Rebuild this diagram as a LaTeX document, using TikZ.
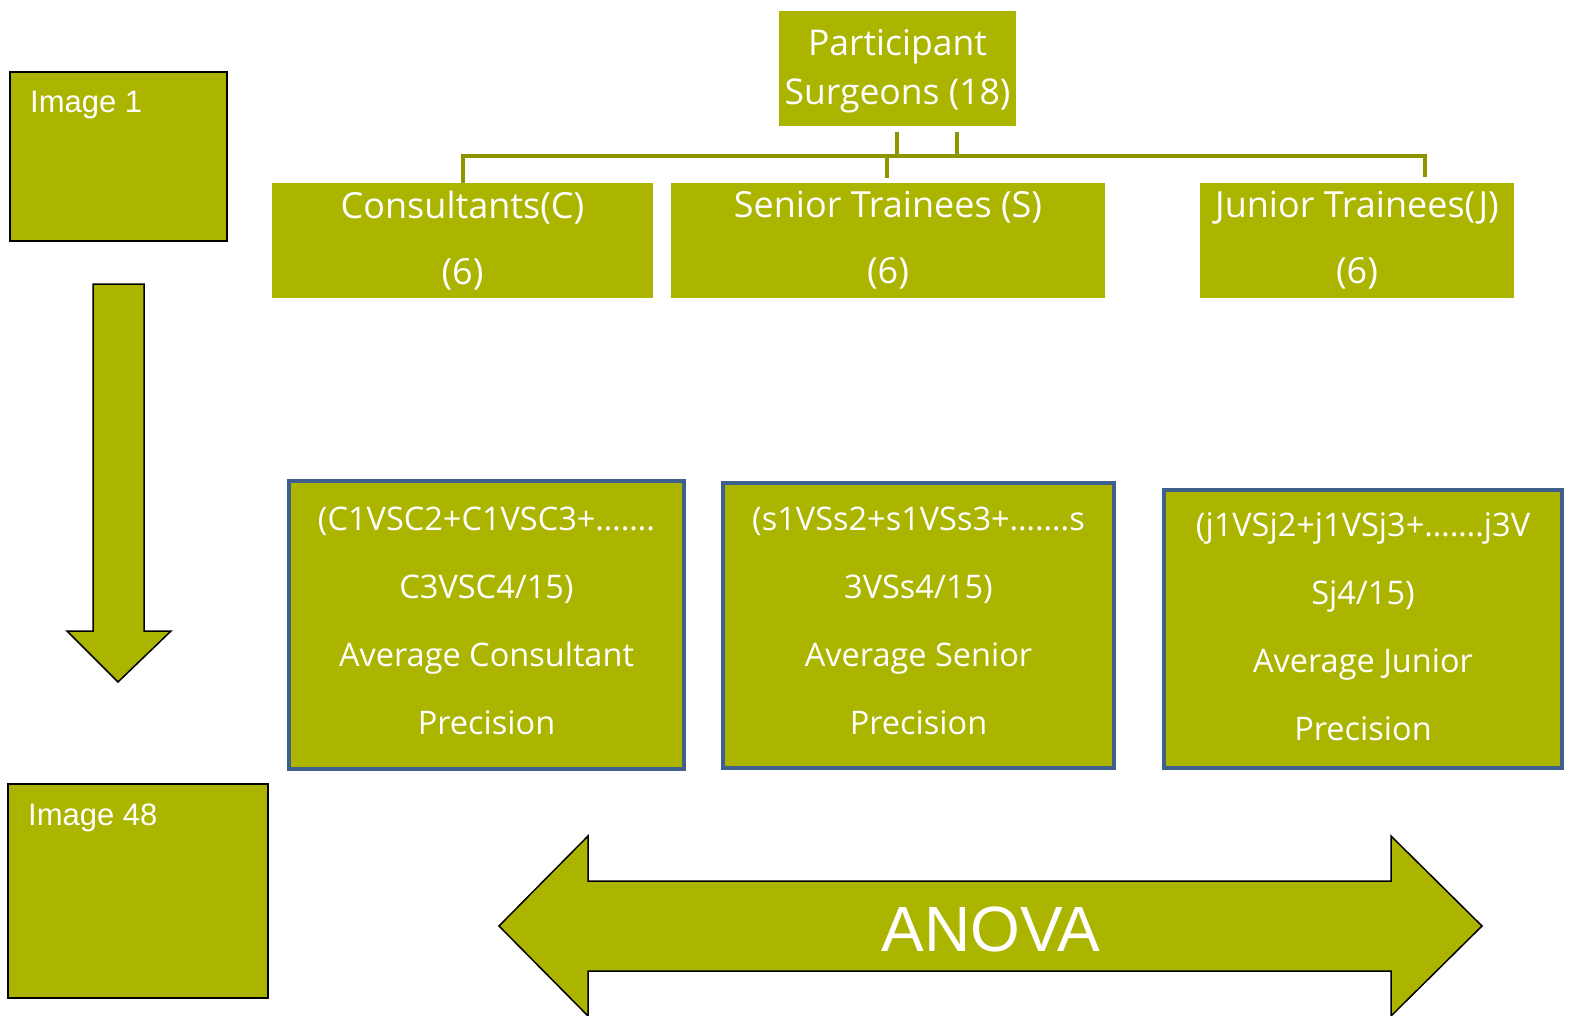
\documentclass[tikz,border=0pt]{standalone}
\usepackage{fontspec}
\setmainfont{Open Sans}
\newfontfamily\arialf{Liberation Sans}
\definecolor{olivefill}{RGB}{171,181,0}
\definecolor{oliveline}{RGB}{140,148,0}
\definecolor{boxblue}{RGB}{63,95,140}
\begin{document}
\begin{tikzpicture}[x=1pt,y=-1pt,
  greenbox/.style={fill=olivefill, draw=none, text=white, inner sep=0pt, align=center},
  imgbox/.style={fill=olivefill, draw=black, line width=1.5pt, inner sep=0pt},
  imgtext/.style={text=white, inner sep=0pt, font=\arialf\fontsize{31}{36}\selectfont},
  precbox/.style={fill=olivefill, draw=boxblue, line width=4pt, inner sep=0pt},
  prectext/.style={text=white, align=center, inner sep=0pt, font=\fontsize{32.5}{68}\selectfont},
  conn/.style={draw=oliveline, line width=4pt},
  blockarrow/.style={fill=olivefill, draw=black, line width=1.5pt, line join=miter}]
\useasboundingbox (0,0) rectangle (1577,1015);
\begin{scope}
\clip (0,0) rectangle (1577,1015);

% top boxes
\node[greenbox, minimum width=237, minimum height=115] (P) at (897.5,68.5) {};
\node[text=white, align=center, inner sep=0pt, font=\fontsize{35.5}{49}\selectfont, yshift=-3pt]
  (Pt) at (P.center) {Participant\\Surgeons (18)};
\node[greenbox, minimum width=381, minimum height=115, font=\fontsize{36}{66}\selectfont]
  (C) at (462.5,240.5) {Consultants(C)\\(6)};
\node[greenbox, minimum width=434, minimum height=115, font=\fontsize{36}{66}\selectfont]
  (S) at (888,240.5) {Senior Trainees (S)\\(6)};
\node[greenbox, minimum width=314, minimum height=115, font=\fontsize{36}{66}\selectfont]
  (J) at (1357,240.5) {Junior Trainees(J)\\(6)};

% connectors
\coordinate (pl) at (897,132);
\coordinate (pr) at (957,132);
\coordinate (bus) at (462,156);
\coordinate (jstub) at (1425,177);
\coordinate (sstub) at (887,178);
\draw[conn] (pl) -- (pl |- bus);
\draw[conn] (pr) -- (pr |- bus);
\draw[conn] (C.north) -- (C.north |- bus) -- (jstub |- bus) -- (jstub);
\draw[conn] (sstub |- bus) -- (sstub);

% image boxes
\node[imgbox, minimum width=217, minimum height=169] (I1) at (118.5,156.5) {};
\node[imgtext, anchor=base west] (I1t) at (30,112) {Image 1};
\node[imgbox, minimum width=260, minimum height=214] (I48) at (138,891) {};
\node[imgtext, anchor=base west] (I48t) at (28,825) {Image 48};

% down arrow
\draw[blockarrow] (93,284) -- (144,284) -- (144,631) -- (171,631) -- (118,682)
  -- (67,631) -- (93,631) -- cycle;

% precision boxes
\node[precbox, minimum width=395, minimum height=288] (CP) at (486.5,625) {};
\node[prectext, yshift=4pt] (CPt) at (CP.center)
  {(C1VSC2+C1VSC3+…….\\C3VSC4/15)\\Average Consultant\\Precision};
\node[precbox, minimum width=391, minimum height=285] (SP) at (918.5,625.5) {};
\node[prectext, yshift=4.5pt] (SPt) at (SP.center)
  {(s1VSs2+s1VSs3+…….s\\3VSs4/15)\\Average Senior\\Precision};
\node[precbox, minimum width=398, minimum height=278] (JP) at (1363,629) {};
\node[prectext, yshift=2pt] (JPt) at (JP.center)
  {(j1VSj2+j1VSj3+…….j3V\\Sj4/15)\\Average Junior\\Precision};

% ANOVA double arrow
\draw[blockarrow] (499,926) -- (588,836) -- (588,881) -- (1391,881) -- (1391,836)
  -- (1482,926) -- (1391,1016) -- (1391,971) -- (588,971) -- (588,1016) -- cycle;
\node[text=white, inner sep=0pt, anchor=base, font=\arialf\fontsize{64}{70}\selectfont]
  (anova) at (991,951) {ANOVA};
\end{scope}
\end{tikzpicture}
\end{document}
